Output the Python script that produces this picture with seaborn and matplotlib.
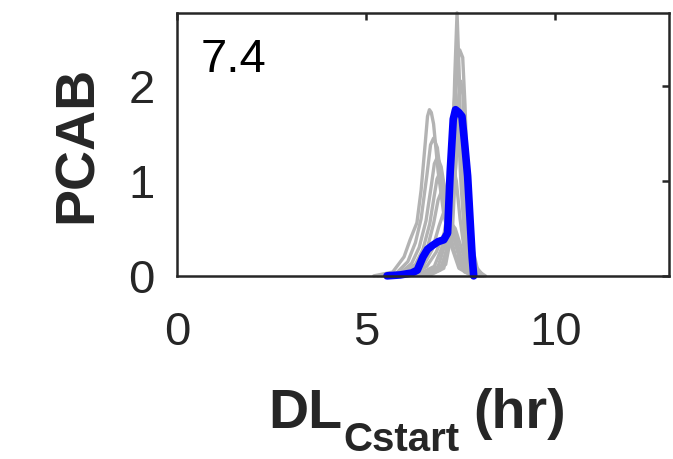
import pandas as pd
import matplotlib.pyplot as plt
import seaborn as sns

# Gray traces (individual runs)
g1_x = [5.6, 6.6, 6.95, 7.15, 7.27, 7.34, 7.40, 7.46, 7.53, 7.65, 7.85, 8.1]
g1_y = [0, 0.01, 0.06, 0.3, 1.1, 2.1, 2.77, 2.1, 1.0, 0.3, 0.03, 0]
g2_x = [5.7, 6.7, 7.05, 7.22, 7.32, 7.40, 7.47, 7.55, 7.61, 7.68, 7.78, 7.95, 8.15]
g2_y = [0, 0.01, 0.08, 0.5, 1.4, 2.2, 2.38, 2.3, 1.8, 1.0, 0.35, 0.05, 0]
g3_x = [5.2, 5.7, 6.0, 6.16, 6.34, 6.45, 6.56, 6.62, 6.67, 6.72, 6.78, 6.9, 7.05, 7.22, 7.45, 7.8]
g3_y = [0, 0.04, 0.2, 0.38, 0.56, 0.9, 1.4, 1.68, 1.75, 1.72, 1.6, 1.1, 0.65, 0.35, 0.08, 0]
g4_x = [5.3, 5.8, 6.1, 6.3, 6.45, 6.6, 6.7, 6.78, 6.88, 7.0, 7.15, 7.35, 7.6, 7.9]
g4_y = [0, 0.03, 0.15, 0.35, 0.6, 1.05, 1.38, 1.45, 1.35, 0.95, 0.55, 0.22, 0.04, 0]
g5_x = [5.4, 5.9, 6.2, 6.4, 6.58, 6.72, 6.8, 6.88, 6.98, 7.1, 7.25, 7.45, 7.7, 8.0]
g5_y = [0, 0.03, 0.13, 0.3, 0.58, 0.95, 1.18, 1.25, 1.15, 0.85, 0.5, 0.2, 0.04, 0]
g6_x = [5.5, 6.0, 6.3, 6.5, 6.68, 6.8, 6.87, 6.94, 7.03, 7.15, 7.3, 7.5, 7.75, 8.0]
g6_y = [0, 0.03, 0.12, 0.28, 0.55, 0.85, 1.02, 1.08, 1.0, 0.75, 0.45, 0.18, 0.03, 0]
g7_x = [5.6, 6.1, 6.4, 6.6, 6.78, 6.9, 7.0, 7.1, 7.22, 7.38, 7.58, 7.8, 8.05]
g7_y = [0, 0.03, 0.12, 0.27, 0.55, 0.8, 0.9, 0.82, 0.6, 0.32, 0.1, 0.02, 0]
g8_x = [5.7, 6.2, 6.5, 6.75, 6.92, 7.04, 7.13, 7.23, 7.35, 7.5, 7.7, 7.95]
g8_y = [0, 0.03, 0.1, 0.28, 0.52, 0.66, 0.7, 0.62, 0.42, 0.2, 0.05, 0]
g9_x = [5.8, 6.3, 6.6, 6.85, 7.03, 7.15, 7.25, 7.35, 7.47, 7.62, 7.85, 8.05]
g9_y = [0, 0.03, 0.1, 0.25, 0.42, 0.52, 0.55, 0.5, 0.35, 0.15, 0.03, 0]
g10_x = [5.6, 6.5, 6.9, 7.1, 7.2, 7.28, 7.35, 7.42, 7.5, 7.6, 7.75, 8.0]
g10_y = [0, 0.02, 0.1, 0.35, 0.9, 1.6, 1.95, 1.7, 1.0, 0.4, 0.08, 0]
g11_x = [5.7, 6.6, 7.0, 7.2, 7.3, 7.38, 7.45, 7.52, 7.6, 7.7, 7.85, 8.1]
g11_y = [0, 0.02, 0.1, 0.35, 0.8, 1.25, 1.45, 1.3, 0.85, 0.4, 0.08, 0]
g12_x = [5.5, 6.4, 6.8, 7.0, 7.12, 7.22, 7.3, 7.38, 7.48, 7.6, 7.8, 8.0]
g12_y = [0, 0.02, 0.1, 0.3, 0.6, 0.95, 1.15, 1.0, 0.6, 0.25, 0.04, 0]
g13_x = [5.8, 6.7, 7.1, 7.28, 7.38, 7.45, 7.5, 7.56, 7.63, 7.72, 7.85, 8.1]
g13_y = [0, 0.02, 0.12, 0.5, 1.3, 1.9, 2.05, 1.9, 1.3, 0.6, 0.12, 0]
g14_x = [5.7, 6.6, 7.05, 7.22, 7.32, 7.38, 7.42, 7.48, 7.56, 7.66, 7.8, 8.05]
g14_y = [0, 0.02, 0.1, 0.45, 1.1, 1.55, 1.7, 1.55, 1.05, 0.45, 0.08, 0]

# Highlighted trace (blue)
blue_x = [5.55, 5.9, 6.2, 6.35, 6.5, 6.62, 6.75, 6.9, 7.05, 7.15, 7.22, 7.3,
          7.36, 7.45, 7.53, 7.6, 7.68, 7.75, 7.8, 7.84]
blue_y = [0.0, 0.01, 0.03, 0.06, 0.2, 0.28, 0.32, 0.36, 0.38, 0.45, 1.1, 1.65,
          1.75, 1.72, 1.68, 1.4, 1.05, 0.55, 0.2, 0.0]

annot = '7.4'
x_ticks = [0, 5, 10]
y_ticks = [0, 1, 2]

gray_xs = [g1_x, g2_x, g3_x, g4_x, g5_x, g6_x, g7_x, g8_x, g9_x, g10_x,
           g11_x, g12_x, g13_x, g14_x]
gray_ys = [g1_y, g2_y, g3_y, g4_y, g5_y, g6_y, g7_y, g8_y, g9_y, g10_y,
           g11_y, g12_y, g13_y, g14_y]
rows = []
for i, (xs, ys) in enumerate(zip(gray_xs, gray_ys)):
    for xv, yv in zip(xs, ys):
        rows.append({'run': i, 'DL': xv, 'PCAB': yv})
gray_df = pd.DataFrame(rows)
blue_df = pd.DataFrame({'DL': blue_x, 'PCAB': blue_y})

sns.set_style('white')
plt.rcParams['font.family'] = ['Liberation Sans', 'DejaVu Sans']
dark = '#262626'

fig = plt.figure(figsize=(6.73, 4.59), dpi=100)
ax = fig.add_axes([0.263, 0.399, 0.731, 0.573])

sns.lineplot(data=gray_df, x='DL', y='PCAB', units='run', estimator=None,
             sort=False, color='#b3b3b3', linewidth=2.4, ax=ax, clip_on=False)
sns.lineplot(data=blue_df, x='DL', y='PCAB', estimator=None, sort=False,
             color='#0000ff', linewidth=5.5, ax=ax, clip_on=False)

ax.set_xlim(0, 13)
ax.set_ylim(0, max(g1_y))
ax.set_xticks(x_ticks)
ax.set_yticks(y_ticks)

ax.text(0.62, 2.15, annot, fontsize=34, ha='left', va='baseline', color='black')

for s in ax.spines.values():
    s.set_linewidth(1.8)
    s.set_color(dark)
ax.tick_params(direction='in', length=5, width=1.8, color=dark,
               top=True, right=True, labelsize=34, labelcolor=dark)
ax.tick_params(axis='x', pad=25)
ax.tick_params(axis='y', pad=16)

ax.set_ylabel('PCAB', fontsize=40, fontweight='bold', color=dark)
ax.yaxis.label.set_va('center')
ax.yaxis.set_label_coords(-0.202, 0.5)

# x label: DL with a lowered "Cstart" subscript, then "(hr)"
ax.set_xlabel('DL', fontsize=40, fontweight='bold', color=dark)
ax.xaxis.label.set_ha('left')
ax.xaxis.label.set_va('baseline')
lx, ly = 0.185, -0.578
ax.xaxis.set_label_coords(lx, ly)
ax.annotate('Cstart', xy=(lx, ly), xycoords='axes fraction', xytext=(54, -17),
            textcoords='offset points', fontsize=29, fontweight='bold',
            color=dark, ha='left', va='baseline', annotation_clip=False)
ax.annotate('(hr)', xy=(lx, ly), xycoords='axes fraction', xytext=(148, 0),
            textcoords='offset points', fontsize=40, fontweight='bold',
            color=dark, ha='left', va='baseline', annotation_clip=False)

fig.savefig('out.png', dpi=100)
